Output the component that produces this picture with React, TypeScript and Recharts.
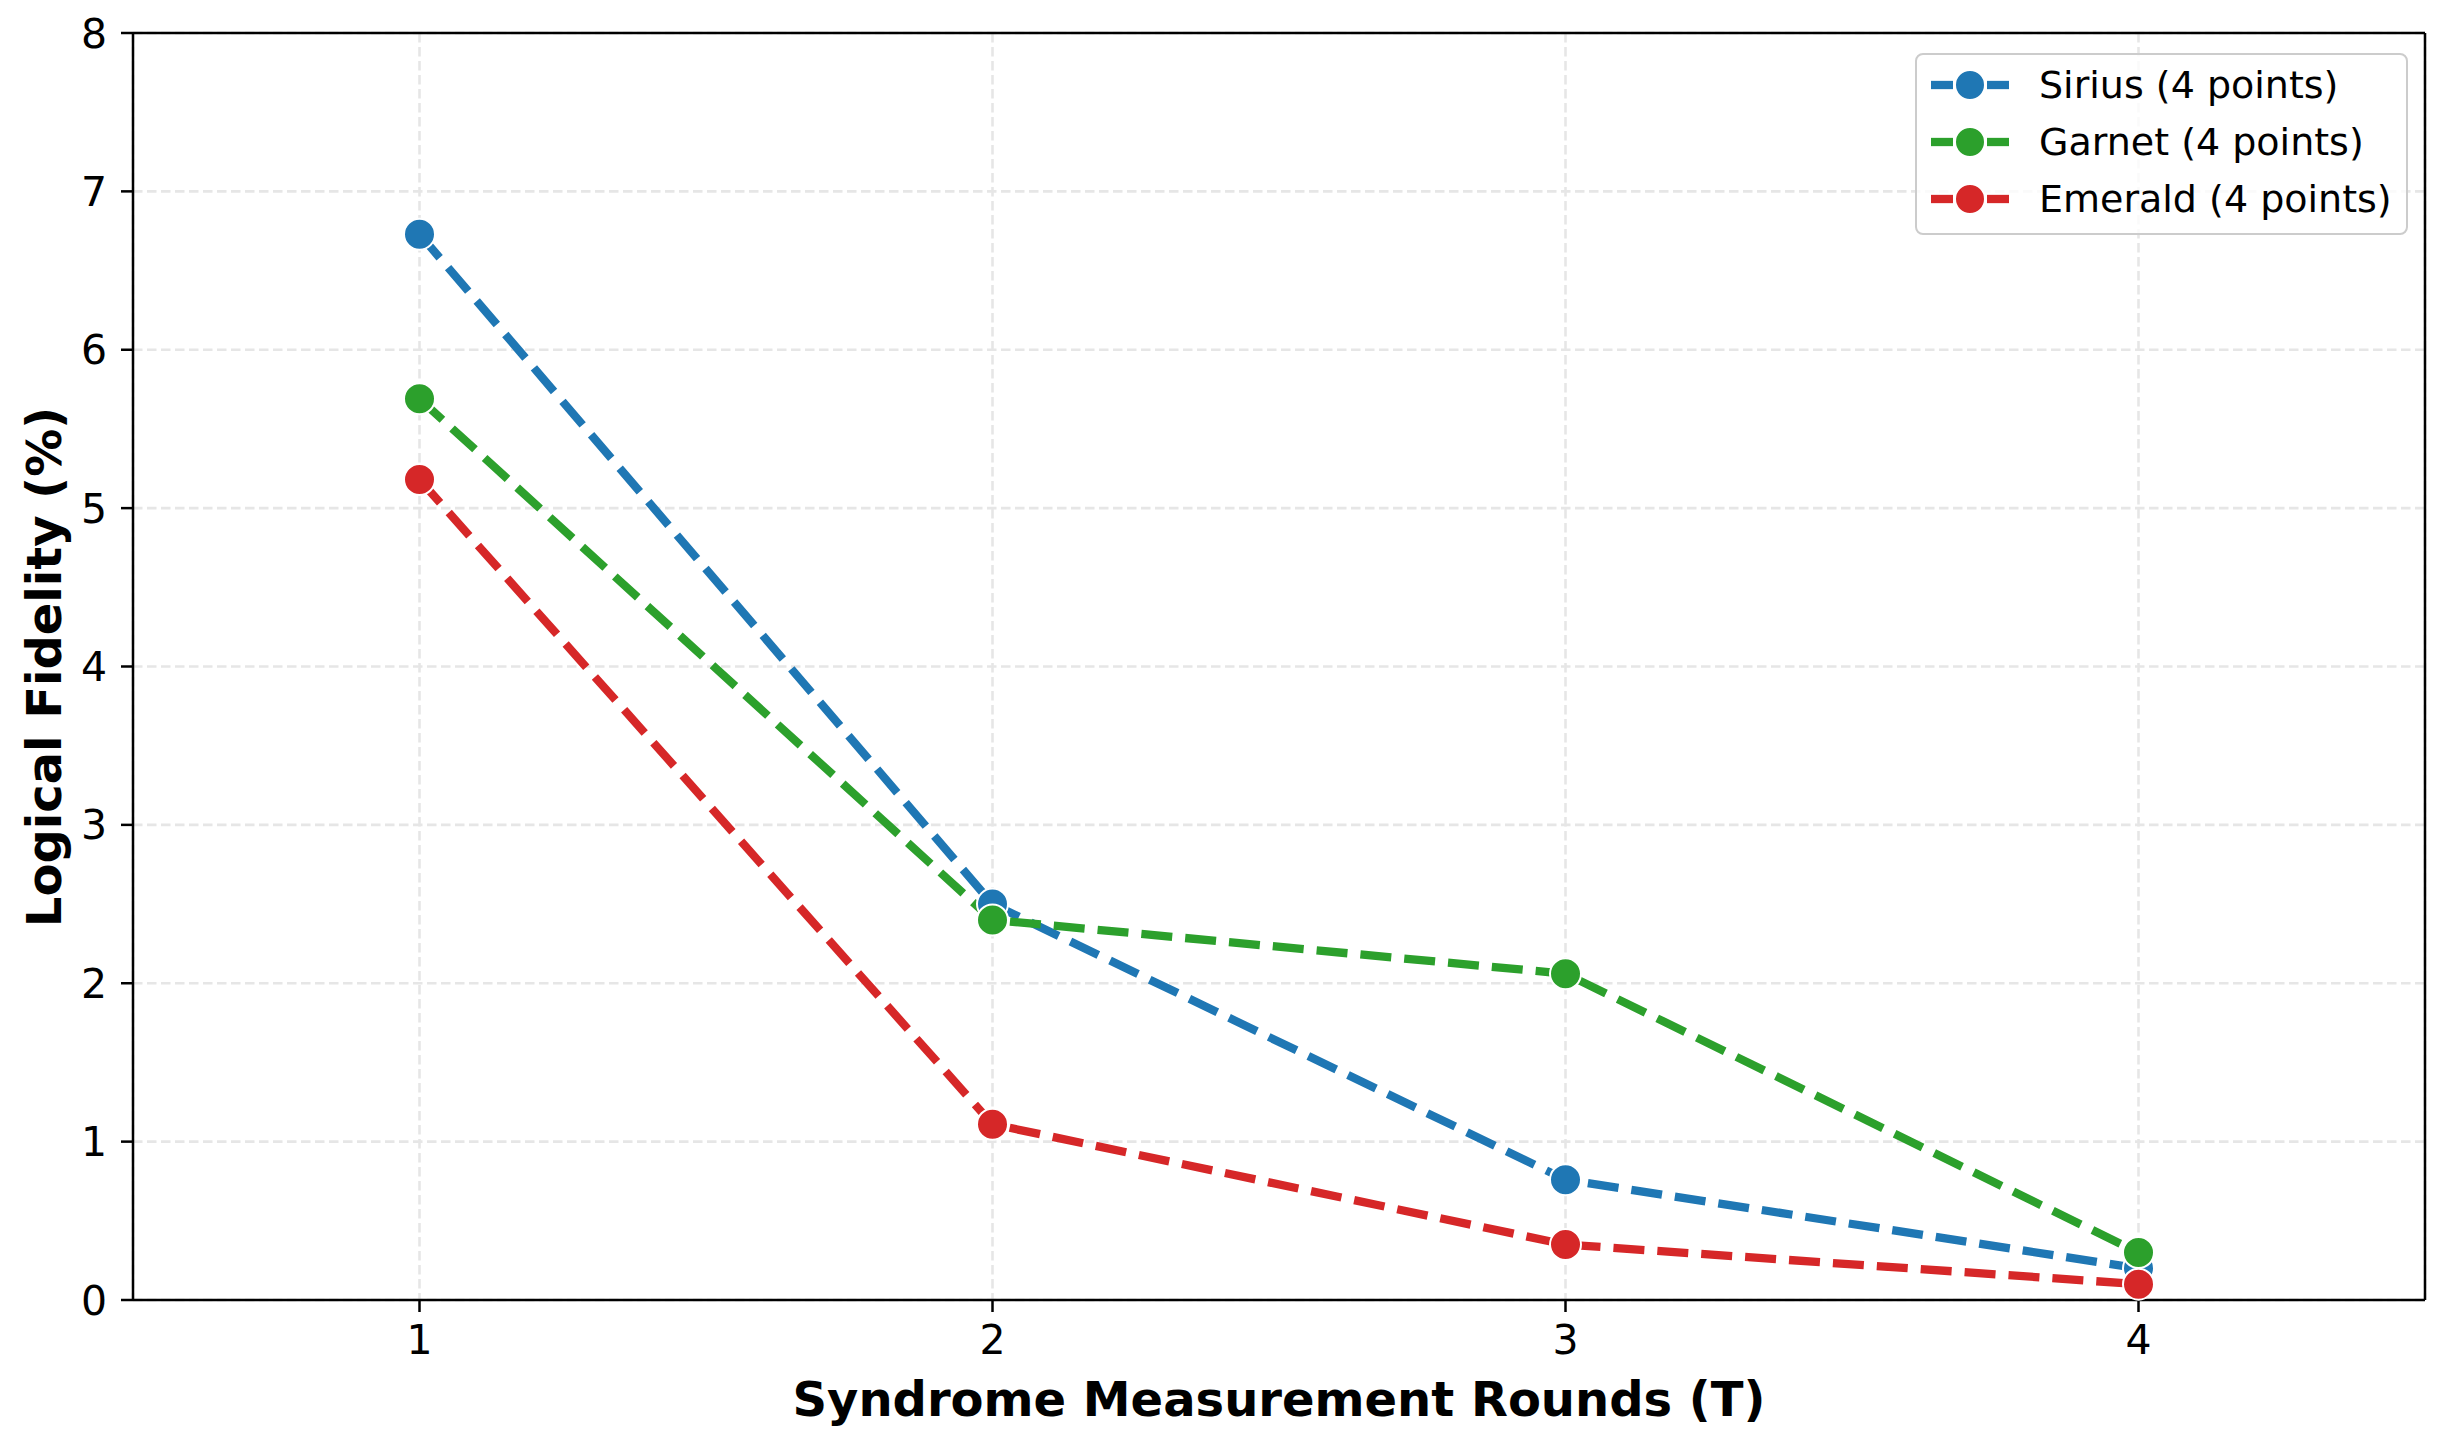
import React from "react";
import {
  LineChart,
  Line,
  XAxis,
  YAxis,
  CartesianGrid,
  ReferenceLine,
} from "recharts";

// values
const rounds = [1, 2, 3, 4];
const sirius = [6.73, 2.5, 0.76, 0.2];
const garnet = [5.69, 2.4, 2.06, 0.3];
const emerald = [5.18, 1.11, 0.35, 0.1];
const xTicks = [1, 2, 3, 4];
const yTicks = [0, 1, 2, 3, 4, 5, 6, 7, 8];

const seriesList = [
  { key: "sirius", name: "Sirius (4 points)", color: "#1f77b4" },
  { key: "garnet", name: "Garnet (4 points)", color: "#2ca02c" },
  { key: "emerald", name: "Emerald (4 points)", color: "#d62728" },
];

const data = rounds.map((t, i) => ({
  t,
  sirius: sirius[i],
  garnet: garnet[i],
  emerald: emerald[i],
}));

const FONT = "DejaVu Sans, sans-serif";

const LegendBox = () => (
  <div
    style={{
      position: "absolute",
      left: 1915,
      top: 53,
      border: "2px solid #cccccc",
      borderRadius: 8,
      background: "rgba(255,255,255,0.8)",
      padding: "1px 14px 6px 14px",
      fontFamily: FONT,
      fontSize: 38,
      color: "#000",
    }}
  >
    {seriesList.map((s) => (
      <div
        key={s.key}
        style={{ display: "flex", alignItems: "center", height: 57 }}
      >
        <svg width={78} height={40} style={{ marginRight: 30 }}>
          <line x1={0} y1={20} x2={22} y2={20} stroke={s.color} strokeWidth={8.3} />
          <line x1={56} y1={20} x2={78} y2={20} stroke={s.color} strokeWidth={8.3} />
          <circle cx={39} cy={20} r={15} fill={s.color} stroke="#fff" strokeWidth={2} />
        </svg>
        <span>{s.name}</span>
      </div>
    ))}
  </div>
);

const App = () => {
  return (
    <div
      style={{
        position: "absolute",
        left: 0,
        top: 0,
        width: 2452,
        height: 1443,
        background: "#fff",
      }}
    >
      <LineChart
        width={2452}
        height={1443}
        data={data}
        margin={{ top: 33, right: 27, bottom: 0, left: 0 }}
      >
        <CartesianGrid
          stroke="#e6e6e6"
          strokeWidth={2.6}
          strokeDasharray="9.5 4.5"
        />
        <XAxis
          dataKey="t"
          type="number"
          domain={[0.5, 4.5]}
          ticks={xTicks}
          allowDataOverflow
          height={143}
          stroke="#000"
          strokeWidth={2.5}
          tickSize={12}
          tickMargin={13}
          tick={{ fill: "#000", fontSize: 41, fontFamily: FONT }}
          label={{
            content: () => (
              <text
                x={1279}
                y={1399}
                textAnchor="middle"
                dominantBaseline="central"
                fontFamily={FONT}
                fontWeight="bold"
                fontSize={48}
                fill="#000"
              >
                Syndrome Measurement Rounds (T)
              </text>
            ),
          }}
        />
        <YAxis
          type="number"
          domain={[0, 8]}
          ticks={yTicks}
          width={133}
          stroke="#000"
          strokeWidth={2.5}
          tickSize={12}
          tickMargin={14}
          tick={{ fill: "#000", fontSize: 41, fontFamily: FONT }}
          label={{
            content: () => (
              <text
                x={44}
                y={667}
                transform="rotate(-90 44 667)"
                textAnchor="middle"
                dominantBaseline="central"
                fontFamily={FONT}
                fontWeight="bold"
                fontSize={48}
                fill="#000"
              >
                Logical Fidelity (%)
              </text>
            ),
          }}
        />
        <ReferenceLine y={8} stroke="#000" strokeWidth={2.5} />
        <ReferenceLine x={4.5} stroke="#000" strokeWidth={2.5} />
        {seriesList.map((s) => (
          <Line
            key={s.key}
            dataKey={s.key}
            name={s.name}
            type="linear"
            stroke={s.color}
            strokeWidth={8.3}
            strokeDasharray="31 13"
            dot={{
              r: 15.5,
              fill: s.color,
              stroke: "#fff",
              strokeWidth: 2,
              strokeDasharray: "none",
            }}
            activeDot={false}
            isAnimationActive={false}
          />
        ))}
      </LineChart>
      <LegendBox />
    </div>
  );
};

export default App;
